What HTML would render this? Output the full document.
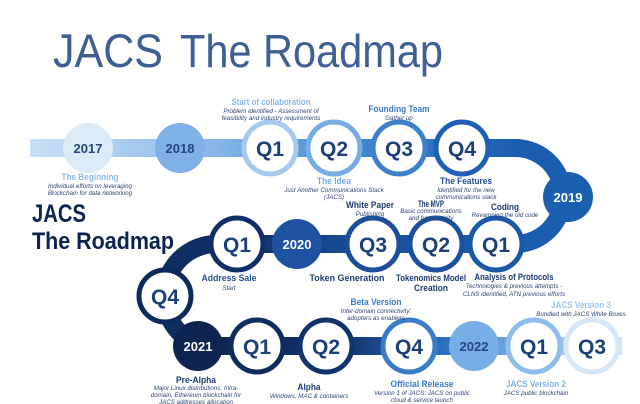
<!DOCTYPE html>
<html><head><meta charset="utf-8"><style>
html,body{margin:0;padding:0;background:#fff;}
svg{display:block;}
text{font-family:"Liberation Sans",sans-serif;}
.q{font-weight:bold;font-size:21px;text-anchor:middle;}
.y{font-weight:bold;font-size:13px;text-anchor:middle;}
.h{font-weight:bold;font-size:9.5px;text-anchor:middle;}
.s{font-style:italic;font-size:6.2px;text-anchor:middle;fill:#2e4670;}
</style></head><body>
<svg width="640" height="404" viewBox="0 0 640 404" xmlns="http://www.w3.org/2000/svg">
<defs>
<linearGradient id="g1" x1="0" x2="1" y1="0" y2="0">
<stop offset="0" stop-color="#c9e0f6"/><stop offset="0.35" stop-color="#8dbbea"/><stop offset="0.7" stop-color="#3f80cc"/><stop offset="1" stop-color="#1a5cb0"/></linearGradient>
<linearGradient id="g2" x1="1" x2="0" y1="0" y2="0">
<stop offset="0" stop-color="#1a5fb0"/><stop offset="0.5" stop-color="#1b4f9c"/><stop offset="1" stop-color="#0e2d62"/></linearGradient>
<linearGradient id="g3" x1="0" x2="1" y1="0" y2="0">
<stop offset="0" stop-color="#0d2450"/><stop offset="0.35" stop-color="#10326c"/><stop offset="0.6" stop-color="#2f74c6"/><stop offset="0.8" stop-color="#8dbbea"/><stop offset="1" stop-color="#d3e6f8"/></linearGradient>
</defs>
<text x="53" y="67" font-size="47" fill="#3d5f94" textLength="110" lengthAdjust="spacingAndGlyphs">JACS</text>
<text x="180" y="67" font-size="46" fill="#3d5f94" textLength="263" lengthAdjust="spacingAndGlyphs">The Roadmap</text>

<!-- row1 band -->
<rect x="30" y="139" width="490" height="18" fill="url(#g1)"/>
<path d="M515 139 A57 57 0 0 1 515 253 L505 253 L505 235 L515 235 A39 39 0 0 0 515 157 Z" fill="#1a5cb0"/>
<!-- row2 band -->
<rect x="215" y="235" width="300" height="18" fill="url(#g2)"/>
<path d="M218 235 A61 61 0 0 0 215 357 L215 339 A43 43 0 0 1 218 253 Z" fill="#0e2d62"/>
<!-- row3 band -->
<rect x="190" y="337" width="432" height="18" fill="url(#g3)"/>

<!-- row1 circles -->
<circle cx="88" cy="148" r="25" fill="#dcebf8"/>
<text class="y" x="88" y="153" fill="#24467e">2017</text>
<circle cx="180" cy="148" r="25" fill="#7fb1e6"/>
<text class="y" x="180" y="153" fill="#24467e">2018</text>
<circle cx="270" cy="148" r="26" fill="#fff" stroke="#a4cbef" stroke-width="5"/>
<text class="q" x="270" y="156" fill="#1c3f78">Q1</text>
<circle cx="334" cy="148" r="26" fill="#fff" stroke="#78ade3" stroke-width="5"/>
<text class="q" x="334" y="156" fill="#1c3f78">Q2</text>
<circle cx="399" cy="148" r="26" fill="#fff" stroke="#3f80cc" stroke-width="5"/>
<text class="q" x="399" y="156" fill="#1c3f78">Q3</text>
<circle cx="462" cy="148" r="26" fill="#fff" stroke="#1f5fb5" stroke-width="5"/>
<text class="q" x="462" y="156" fill="#1c3f78">Q4</text>
<circle cx="568" cy="197" r="25" fill="#1a5fb0"/>
<text class="y" x="568" y="202" fill="#fff">2019</text>

<!-- row2 circles -->
<circle cx="496" cy="244" r="26" fill="#fff" stroke="#1a58a8" stroke-width="5"/>
<text class="q" x="496" y="252" fill="#1c3f78">Q1</text>
<circle cx="436" cy="244" r="26" fill="#fff" stroke="#1a50a0" stroke-width="5"/>
<text class="q" x="436" y="252" fill="#1c3f78">Q2</text>
<circle cx="373" cy="244" r="26" fill="#fff" stroke="#1c4e9c" stroke-width="5"/>
<text class="q" x="373" y="252" fill="#1c3f78">Q3</text>
<circle cx="297" cy="244" r="25" fill="#1d52a0"/>
<text class="y" x="297" y="249" fill="#fff">2020</text>
<circle cx="237" cy="244" r="26" fill="#fff" stroke="#0f2f66" stroke-width="5"/>
<text class="q" x="237" y="252" fill="#1c3f78">Q1</text>
<circle cx="165" cy="296" r="26" fill="#fff" stroke="#0e2a5c" stroke-width="5"/>
<text class="q" x="165" y="304" fill="#1c3f78">Q4</text>

<!-- row3 circles -->
<circle cx="198" cy="346" r="25" fill="#0d2450"/>
<text class="y" x="198" y="351" fill="#fff">2021</text>
<circle cx="257" cy="346" r="26" fill="#fff" stroke="#0f2c5e" stroke-width="5"/>
<text class="q" x="257" y="354" fill="#1c3f78">Q1</text>
<circle cx="326" cy="346" r="26" fill="#fff" stroke="#11336c" stroke-width="5"/>
<text class="q" x="326" y="354" fill="#1c3f78">Q2</text>
<circle cx="409" cy="346" r="26" fill="#fff" stroke="#3a7cc8" stroke-width="5"/>
<text class="q" x="409" y="354" fill="#1c3f78">Q4</text>
<circle cx="474" cy="346" r="25" fill="#78aee8"/>
<text class="y" x="474" y="351" fill="#24467e">2022</text>
<circle cx="534" cy="346" r="26" fill="#fff" stroke="#8fbdeb" stroke-width="5"/>
<text class="q" x="534" y="354" fill="#1c3f78">Q1</text>
<circle cx="592" cy="346" r="26" fill="#fff" stroke="#d6e7f8" stroke-width="5"/>
<text class="q" x="592" y="354" fill="#1c3f78">Q3</text>

<!-- JACS left -->
<text x="32" y="222" font-size="25" font-weight="bold" fill="#0d2450" textLength="54" lengthAdjust="spacingAndGlyphs">JACS</text>
<text x="32" y="249" font-size="24" font-weight="bold" fill="#0d2450" textLength="142" lengthAdjust="spacingAndGlyphs">The Roadmap</text>

<!-- labels row1 -->
<text class="h" x="271" y="105" fill="#8ab8e6" textLength="79" lengthAdjust="spacingAndGlyphs">Start of collaboration</text>
<text class="s" x="271" y="113">Problem identified - Assessment of</text>
<text class="s" x="271" y="120">feasibility and industry requirements</text>
<text class="h" x="399" y="112" fill="#3a7ac4" textLength="61" lengthAdjust="spacingAndGlyphs">Founding Team</text>
<text class="s" x="399" y="120">Gather up</text>
<text class="h" x="90" y="180" fill="#8ab8e6" textLength="57" lengthAdjust="spacingAndGlyphs">The Beginning</text>
<text class="s" x="90" y="188">Individual efforts on leveraging</text>
<text class="s" x="90" y="195">Blockchain for data networking</text>
<text class="h" x="334" y="184" fill="#6fa8e0" textLength="34" lengthAdjust="spacingAndGlyphs">The Idea</text>
<text class="s" x="334" y="192">Just Another Communications Stack</text>
<text class="s" x="334" y="199">(JACS)</text>
<text class="h" x="466" y="184" fill="#1f4f95" textLength="52" lengthAdjust="spacingAndGlyphs">The Features</text>
<text class="s" x="466" y="192">Identified for the new</text>
<text class="s" x="466" y="199">communications stack</text>
<text class="h" x="370" y="208" fill="#1b3a6e" textLength="48" lengthAdjust="spacingAndGlyphs">White Paper</text>
<text class="s" x="370" y="216">Publishing</text>
<text class="h" x="431" y="207" fill="#1b3a6e" textLength="26" lengthAdjust="spacingAndGlyphs">The MVP</text>
<text class="s" x="431" y="213">Basic communications</text>
<text class="s" x="431" y="220">and functionality</text>
<text class="h" x="505" y="210" fill="#1b3a6e" textLength="28" lengthAdjust="spacingAndGlyphs">Coding</text>
<text class="s" x="505" y="217">Revamping the old code</text>
<!-- labels row2 -->
<text class="h" x="229" y="281" fill="#1f4f95" textLength="55" lengthAdjust="spacingAndGlyphs">Address Sale</text>
<text class="s" x="229" y="290">Start</text>
<text class="h" x="347" y="281" fill="#1b3a6e" textLength="75" lengthAdjust="spacingAndGlyphs">Token Generation</text>
<text class="h" x="431" y="281" fill="#1b3a6e" textLength="70" lengthAdjust="spacingAndGlyphs">Tokenomics Model</text>
<text class="h" x="431" y="291" fill="#1b3a6e" textLength="34" lengthAdjust="spacingAndGlyphs">Creation</text>
<text class="h" x="514" y="280" fill="#1b3a6e" textLength="79" lengthAdjust="spacingAndGlyphs">Analysis of Protocols</text>
<text class="s" x="514" y="288">Technologies &amp; previous attempts -</text>
<text class="s" x="514" y="296">CLNS identified, ATN previous efforts</text>
<text class="h" x="376" y="305" fill="#3a7ac4" textLength="51" lengthAdjust="spacingAndGlyphs">Beta Version</text>
<text class="s" x="376" y="313">Inter-domain connectivity:</text>
<text class="s" x="376" y="320">adopters as enablers</text>
<text class="h" x="581" y="308" fill="#9cc5ee" textLength="60" lengthAdjust="spacingAndGlyphs">JACS Version 3</text>
<text class="s" x="581" y="316">Bundled with JACS White Boxes</text>
<!-- labels row3 -->
<text class="h" x="196" y="383" fill="#1b3a6e" textLength="40" lengthAdjust="spacingAndGlyphs">Pre-Alpha</text>
<text class="s" x="196" y="390">Major Linux distributions: Intra-</text>
<text class="s" x="196" y="397">domain, Ethereum blockchain for</text>
<text class="s" x="196" y="404">JACS addresses allocation</text>
<text class="h" x="309" y="390" fill="#1b3a6e" textLength="23" lengthAdjust="spacingAndGlyphs">Alpha</text>
<text class="s" x="309" y="398">Windows, MAC &amp; containers</text>
<text class="h" x="422" y="387" fill="#3a7ac4" textLength="63" lengthAdjust="spacingAndGlyphs">Official Release</text>
<text class="s" x="422" y="395">Version 1 of JACS: JACS on public</text>
<text class="s" x="422" y="402">cloud &amp; service launch</text>
<text class="h" x="536" y="387" fill="#7fb1e6" textLength="60" lengthAdjust="spacingAndGlyphs">JACS Version 2</text>
<text class="s" x="536" y="395">JACS public blockchain</text>
</svg>
</body></html>
